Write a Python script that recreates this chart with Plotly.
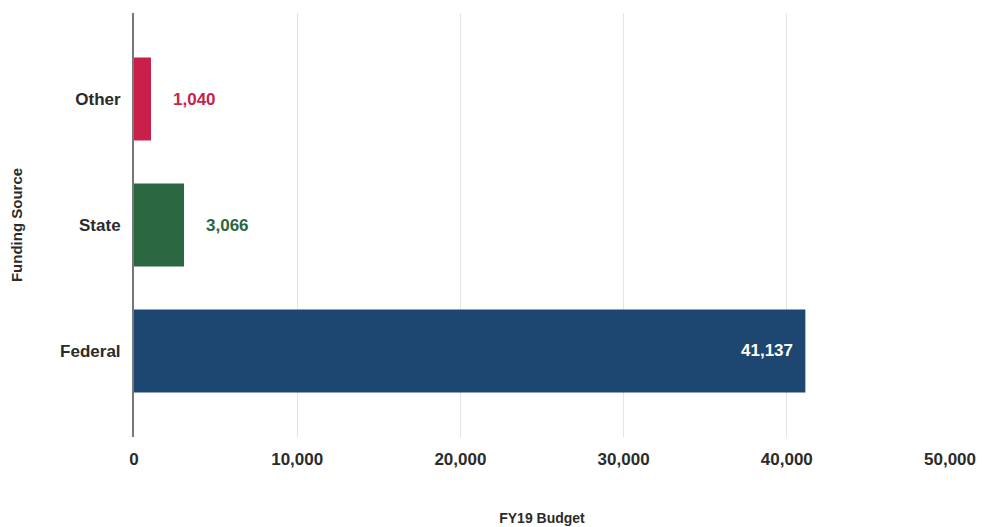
import plotly.graph_objects as go

categories = ["Federal", "State", "Other"]
values = [41137, 3066, 1040]
bar_colors = ["#1d4670", "#2a6640", "#c81f4b"]
label_colors = ["#ffffff", "#2a6640", "#c81f4b"]
tick_vals = [0, 10000, 20000, 30000, 40000, 50000]
tick_text = ["0", "10,000", "20,000", "30,000", "40,000", "50,000"]

font_family = "Liberation Sans, Arial, sans-serif"

fig = go.Figure()
fig.add_trace(go.Bar(
    y=categories,
    x=values,
    orientation="h",
    width=0.66,
    marker=dict(color=bar_colors, line=dict(width=0)),
    hoverinfo="x+y",
))

# value labels placed through the axes from the data
for cat, val, col in zip(categories, values, label_colors):
    inside = val > 20000
    fig.add_annotation(
        x=val, y=cat, xref="x", yref="y",
        text=f"{val:,}",
        showarrow=False,
        xanchor="right" if inside else "left",
        xshift=-10 if inside else 20,
        font=dict(family=font_family, size=17, color=col, weight="bold"),
    )

fig.update_layout(
    width=983,
    height=527,
    margin=dict(l=134, r=33, t=13, b=90, autoexpand=False),
    paper_bgcolor="white",
    plot_bgcolor="white",
    showlegend=False,
    font=dict(family=font_family, color="#333333"),
)
fig.update_xaxes(
    range=[0, 50000],
    tickvals=tick_vals,
    ticktext=tick_text,
    showgrid=True,
    gridcolor="#e4e4e4",
    gridwidth=1,
    zeroline=False,
    showline=False,
    ticks="",
    automargin=False,
    ticklabelstandoff=10,
    tickfont=dict(family=font_family, size=17, color="#2b2b2b", weight="bold"),
    title=dict(text="FY19 Budget", font=dict(family=font_family, size=14, color="#2b2b2b", weight="bold"), standoff=45),
)
fig.update_yaxes(
    range=[-0.683, 2.683],
    categoryorder="array",
    categoryarray=categories,
    showgrid=False,
    showline=True,
    linecolor="#777777",
    linewidth=2,
    zeroline=False,
    ticks="",
    automargin=False,
    ticklabelstandoff=8,
    tickfont=dict(family=font_family, size=17, color="#2b2b2b", weight="bold"),
    title=dict(text="Funding Source", font=dict(family=font_family, size=15, color="#2b2b2b", weight="bold"), standoff=34),
)

fig.write_html("out.html")
